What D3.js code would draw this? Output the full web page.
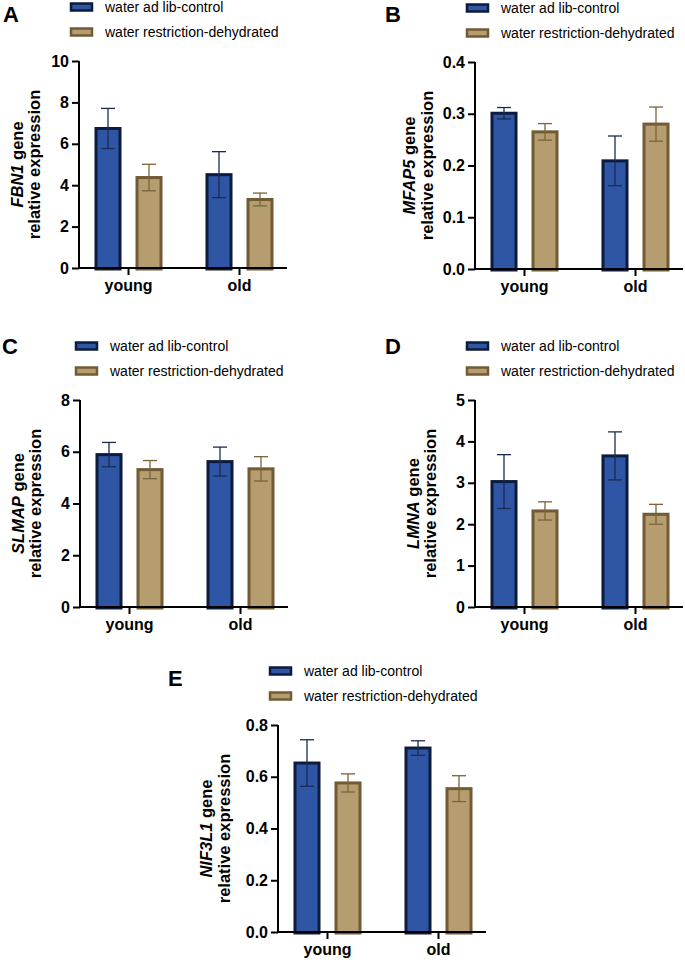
<!DOCTYPE html>
<html>
<head>
<meta charset="utf-8">
<script src="https://cdn.jsdelivr.net/npm/d3@7"></script>
<style>
  body { margin: 0; background: #fff; }
  svg { font-family: "Liberation Sans", Arial, sans-serif; }
</style>
</head>
<body>
<div id="chart"></div>
<script>
// groups and series shared by all panels
const groups = ["young", "old"];
const series = ["water ad lib-control", "water restriction-dehydrated"];

// mean values, [young-control, young-dehydrated, old-control, old-dehydrated]
const fbn1Means = [6.74, 4.37, 4.51, 3.31];
const fbn1Errors = [0.97, 0.64, 1.11, 0.31];
const mfap5Means = [0.301, 0.265, 0.209, 0.280];
const mfap5Errors = [0.011, 0.016, 0.048, 0.033];
const slmapMeans = [5.89, 5.31, 5.62, 5.34];
const slmapErrors = [0.47, 0.35, 0.56, 0.47];
const lmnaMeans = [3.03, 2.32, 3.65, 2.24];
const lmnaErrors = [0.65, 0.22, 0.58, 0.24];
const nif3l1Means = [0.653, 0.576, 0.711, 0.554];
const nif3l1Errors = [0.09, 0.035, 0.028, 0.05];

// y axis ticks per panel
const fbn1Ticks = [0, 2, 4, 6, 8, 10];
const mfap5Ticks = [0, 0.1, 0.2, 0.3, 0.4];
const slmapTicks = [0, 2, 4, 6, 8];
const lmnaTicks = [0, 1, 2, 3, 4, 5];
const nif3l1Ticks = [0, 0.2, 0.4, 0.6, 0.8];

const fills = ["#2e56a4", "#b59d6f"];
const strokes = ["#0d1b3d", "#715b35"];
const errColors = ["#1c2b52", "#7a6439"];

const svg = d3.select("#chart").append("svg")
  .attr("width", 685)
  .attr("height", 962);

const plotW = 208, plotH = 207;

function drawPanel(p) {
  const g = svg.append("g").attr("transform", `translate(${p.x}, ${p.y})`);

  // letter
  svg.append("text")
    .attr("x", p.lx).attr("y", p.ly)
    .style("font-size", "22px").style("font-weight", "bold")
    .text(p.letter);

  const y = d3.scaleLinear().domain([0, d3.max(p.ticks)]).range([plotH, 0]);
  const x0 = d3.scaleBand().domain(groups).range([-6, 216]);
  const x1 = d3.scaleBand().domain(series).range([0, x0.bandwidth()])
    .paddingInner(0.341).paddingOuter(0.524);

  const rows = [];
  groups.forEach((grp, i) => series.forEach((s, j) => {
    rows.push({ grp, s, j, v: p.means[i * 2 + j], e: p.errors[i * 2 + j] });
  }));

  // bars
  const sw = 3;
  g.selectAll("rect.bar").data(rows).join("rect")
    .attr("class", "bar")
    .attr("x", d => x0(d.grp) + x1(d.s) + sw / 2)
    .attr("width", x1.bandwidth() - sw)
    .attr("y", d => y(d.v))
    .attr("height", d => plotH - y(d.v) + 1)
    .attr("fill", d => fills[d.j])
    .attr("stroke", d => strokes[d.j])
    .attr("stroke-width", sw);

  // error bars
  const cap = 7;
  const eb = g.selectAll("g.err").data(rows).join("g")
    .attr("class", "err")
    .attr("transform", d => `translate(${x0(d.grp) + x1(d.s) + x1.bandwidth() / 2}, 0)`)
    .attr("stroke", d => errColors[d.j])
    .attr("stroke-width", 1.3);
  eb.append("line")
    .attr("y1", d => y(d.v + d.e)).attr("y2", d => y(d.v - d.e));
  eb.append("line")
    .attr("x1", -cap).attr("x2", cap)
    .attr("y1", d => y(d.v + d.e)).attr("y2", d => y(d.v + d.e));
  eb.append("line")
    .attr("x1", -cap).attr("x2", cap)
    .attr("y1", d => y(d.v - d.e)).attr("y2", d => y(d.v - d.e));

  // y axis
  const yAxis = d3.axisLeft(y).tickValues(p.ticks).tickSize(7).tickPadding(3)
    .tickFormat(p.fmt);
  const yg = g.append("g").call(yAxis);
  yg.select(".domain").attr("stroke-width", 2).attr("d", `M0,${plotH + 1}V0`);
  yg.selectAll(".tick line").attr("stroke-width", 2);
  yg.selectAll("text").style("font-size", "16px").style("font-weight", "bold")
    .attr("fill", "#000");

  // x axis
  const xAxis = d3.axisBottom(x0).tickSize(7).tickPadding(5).tickSizeOuter(0);
  const xg = g.append("g").attr("transform", `translate(0, ${plotH})`).call(xAxis);
  xg.select(".domain").attr("stroke-width", 2).attr("d", `M-1,0H${plotW}`);
  xg.selectAll(".tick line").attr("stroke-width", 2);
  xg.selectAll("text").style("font-size", "16px").style("font-weight", "bold")
    .attr("fill", "#000");

  // y label (two lines, gene name in italics)
  const t1 = g.append("text")
    .attr("transform", `translate(${p.lab1}, ${plotH / 2}) rotate(-90)`)
    .attr("text-anchor", "middle").attr("dy", "0.35em")
    .style("font-size", "16.5px").style("font-weight", "bold");
  t1.append("tspan").style("font-style", "italic").text(p.gene);
  t1.append("tspan").text(" gene");
  g.append("text")
    .attr("transform", `translate(${p.lab2}, ${plotH / 2}) rotate(-90)`)
    .attr("text-anchor", "middle").attr("dy", "0.35em")
    .style("font-size", "16.5px").style("font-weight", "bold")
    .text("relative expression");

  // legend
  const lg = g.append("g").selectAll("g").data(series).join("g")
    .attr("transform", (d, i) => `translate(${p.legX}, ${-54 + i * 25})`);
  lg.append("rect")
    .attr("x", 0).attr("y", -3.5).attr("width", 21).attr("height", 7)
    .attr("fill", (d, i) => fills[i])
    .attr("stroke", (d, i) => strokes[i])
    .attr("stroke-width", 2.5);
  lg.append("text")
    .attr("x", 34).attr("dy", "0.35em")
    .style("font-size", "14px")
    .text(d => d);
}

const panels = [
  { letter: "A", lx: 3, ly: 22, x: 79, y: 61, gene: "FBN1", means: fbn1Means, errors: fbn1Errors,
    ticks: fbn1Ticks, fmt: d3.format("d"), lab1: -62, lab2: -45, legX: -8 },
  { letter: "B", lx: 385, ly: 22, x: 475, y: 62, gene: "MFAP5", means: mfap5Means, errors: mfap5Errors,
    ticks: mfap5Ticks, fmt: d3.format(".1f"), lab1: -66, lab2: -48, legX: -8 },
  { letter: "C", lx: 2, ly: 354, x: 80, y: 400, gene: "SLMAP", means: slmapMeans, errors: slmapErrors,
    ticks: slmapTicks, fmt: d3.format("d"), lab1: -62, lab2: -45, legX: -4 },
  { letter: "D", lx: 385, ly: 354, x: 475, y: 400, gene: "LMNA", means: lmnaMeans, errors: lmnaErrors,
    ticks: lmnaTicks, fmt: d3.format("d"), lab1: -62, lab2: -45, legX: -8 },
  { letter: "E", lx: 168, ly: 686, x: 278, y: 725, gene: "NIF3L1", means: nif3l1Means, errors: nif3l1Errors,
    ticks: nif3l1Ticks, fmt: d3.format(".1f"), lab1: -72, lab2: -54, legX: -8 }
];

panels.forEach(drawPanel);
</script>
</body>
</html>
